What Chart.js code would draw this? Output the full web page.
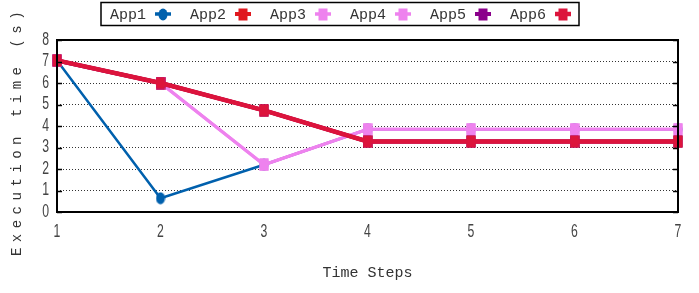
<!DOCTYPE html>
<html><head><meta charset="utf-8">
<script src="https://cdn.jsdelivr.net/npm/chart.js@4.4.1/dist/chart.umd.min.js"></script>
<style>html,body{margin:0;padding:0;background:#fff}canvas{display:block}</style>
</head><body>
<canvas id="c" width="699" height="293"></canvas>
<script>
const steps = [1, 2, 3, 4, 5, 6, 7];
const app1 = [7.05, 0.64, 2.2, 3.85, 3.85, 3.85, 3.85];
const app2 = [7.05, 6.0, 4.73, 3.28, 3.28, 3.28, 3.28];
const app3 = [7.05, 6.0, 2.2, 3.85, 3.85, 3.85, 3.85];
const app4 = [7.05, 6.0, 2.2, 3.85, 3.85, 3.85, 3.85];
const app5 = [7.05, 6.0, 4.73, 3.28, 3.28, 3.28, 3.28];
const app6 = [7.05, 6.0, 4.73, 3.28, 3.28, 3.28, 3.28];
const seriesNames = ['App1', 'App2', 'App3', 'App4', 'App5', 'App6'];
const yTicks = [0, 1, 2, 3, 4, 5, 6, 7, 8];
const xTicks = [1, 2, 3, 4, 5, 6, 7];
const xTitle = 'Time Steps';
const yTitle = 'Execution time (s)';

const colors = ['#0060ad', '#e0181f', '#ee82ee', '#ee82ee', '#8b008b', '#dc143c'];
const widths = [2.5, 4, 3, 3, 4, 4.5];
const shapes = ['ellipse', 'rect', 'rect', 'rect', 'rect', 'rect'];

function makeMarker(color, shape) {
  const cv = document.createElement('canvas');
  cv.width = 10; cv.height = 13;
  const g = cv.getContext('2d');
  g.fillStyle = color;
  if (shape === 'ellipse') {
    g.beginPath(); g.ellipse(5, 6.5, 4.5, 6, 0, 0, Math.PI * 2); g.fill();
  } else {
    g.fillRect(0.5, 0.5, 9, 12);
  }
  return cv;
}
const markers = colors.map((c, i) => makeMarker(c, shapes[i]));

const allSeries = [app1, app2, app3, app4, app5, app6];
const datasets = allSeries.map((vals, i) => ({
  label: seriesNames[i],
  data: steps.map((s, k) => ({ x: s, y: vals[k] })),
  borderColor: colors[i],
  backgroundColor: colors[i],
  borderWidth: widths[i],
  pointStyle: markers[i],
  pointRadius: 6,
  order: 6 - i,
  clip: 8,
  tension: 0
}));

const MONO = "'Liberation Mono', 'DejaVu Sans Mono', monospace";
const SANS = "'Liberation Sans', 'DejaVu Sans', sans-serif";

function narrowText(ctx, txt, x, y, align) {
  ctx.save();
  ctx.translate(x, y);
  ctx.scale(0.68, 1);
  ctx.textAlign = align;
  ctx.fillText(txt, 0, 0);
  ctx.restore();
}

const decor = {
  id: 'decor',
  afterDraw(chart) {
    const ctx = chart.ctx;
    const a = chart.chartArea;
    const ys = chart.scales.y;
    const xs = chart.scales.x;
    ctx.save();
    // y inward ticks
    ctx.strokeStyle = '#000'; ctx.lineWidth = 1.5;
    yTicks.forEach(v => {
      const py = Math.round(ys.getPixelForValue(v)) + 0.5;
      ctx.beginPath();
      ctx.moveTo(a.left, py); ctx.lineTo(a.left + 5, py);
      ctx.moveTo(a.right, py); ctx.lineTo(a.right - 5, py);
      ctx.stroke();
    });
    // frame
    ctx.lineWidth = 2; ctx.strokeStyle = '#000';
    ctx.strokeRect(a.left, a.top, a.right - a.left, a.bottom - a.top);
    // tick labels (narrow)
    ctx.fillStyle = '#444';
    ctx.font = "18px " + SANS;
    ctx.textBaseline = 'middle';
    yTicks.forEach(v => narrowText(ctx, String(v), 49, ys.getPixelForValue(v), 'right'));
    xTicks.forEach(v => narrowText(ctx, String(v), xs.getPixelForValue(v), 232, 'center'));
    // x title
    ctx.fillStyle = '#333';
    ctx.font = "15px " + MONO;
    ctx.textAlign = 'center'; ctx.textBaseline = 'middle';
    ctx.fillText(xTitle, (a.left + a.right) / 2, 273);
    // y title
    ctx.save();
    ctx.translate(17, 131);
    ctx.rotate(-Math.PI / 2);
    ctx.font = "14px " + MONO;
    try { ctx.letterSpacing = '5.5px'; } catch (e) {}
    ctx.fillText(yTitle, 0, 0);
    ctx.restore();
    // legend
    ctx.lineWidth = 1.5; ctx.strokeStyle = '#000';
    ctx.strokeRect(101, 2.5, 478, 23);
    ctx.font = "15px " + MONO;
    ctx.textAlign = 'left'; ctx.textBaseline = 'middle';
    seriesNames.forEach((n, i) => {
      const tx = 110 + i * 80;
      ctx.fillStyle = '#333';
      ctx.fillText(n, tx, 15);
      const mx = 163 + i * 80;
      ctx.strokeStyle = colors[i];
      ctx.lineWidth = Math.max(widths[i], 3.5);
      ctx.beginPath(); ctx.moveTo(mx - 8, 14); ctx.lineTo(mx + 8, 14); ctx.stroke();
      ctx.drawImage(markers[i], mx - 5, 8);
    });
    ctx.restore();
  }
};

new Chart(document.getElementById('c'), {
  type: 'line',
  data: { datasets },
  options: {
    responsive: false,
    animation: false,
    devicePixelRatio: 1,
    layout: { padding: { top: 40, right: 21, left: 0, bottom: 0 } },
    plugins: { legend: { display: false }, tooltip: { enabled: false } },
    scales: {
      x: {
        type: 'linear', min: 1, max: 7,
        afterFit(s) { s.height = 81; },
        ticks: { display: false, stepSize: 1 },
        grid: { display: false, drawTicks: false },
        border: { display: false }
      },
      y: {
        min: 0, max: 8,
        afterFit(s) { s.width = 57; },
        afterBuildTicks(s) { s.ticks = yTicks.map(v => ({ value: v })); },
        ticks: { display: false, autoSkip: false },
        grid: {
          drawTicks: false,
          color: c => (c.tick && (c.tick.value === 0 || c.tick.value === 8)) ? 'rgba(0,0,0,0)' : '#333',
          lineWidth: 1
        },
        border: { display: false, dash: [1, 2] }
      }
    }
  },
  plugins: [decor]
});
</script>
</body></html>
